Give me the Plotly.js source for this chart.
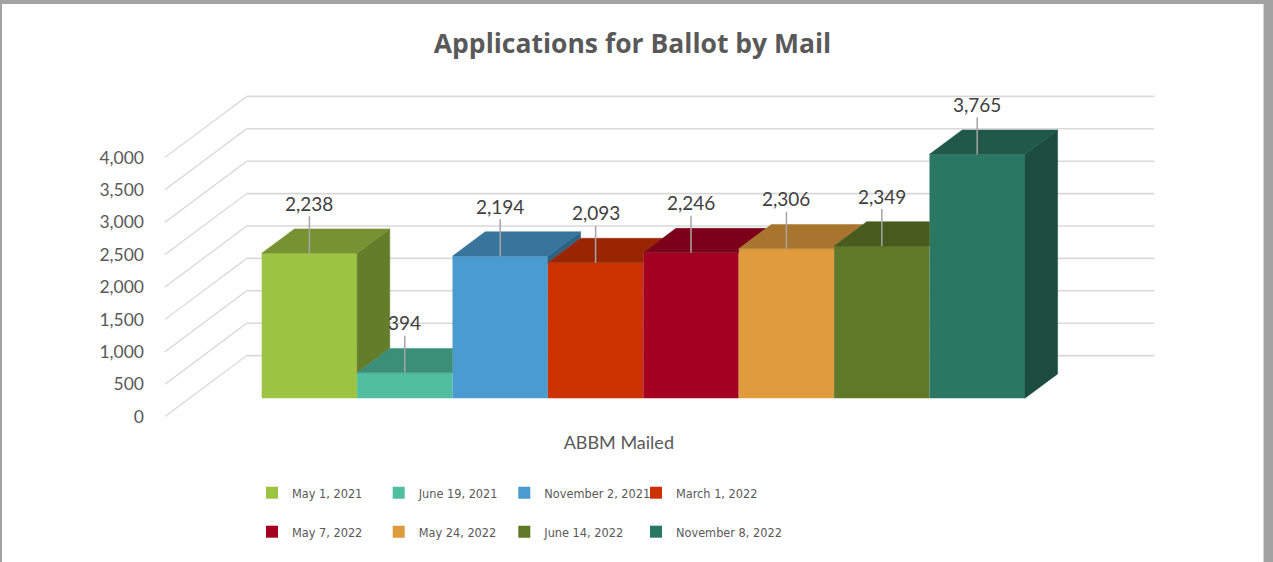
<!DOCTYPE html>
<html><head><meta charset="utf-8">
<script src="https://cdn.plot.ly/plotly-3.0.1.min.js"></script>
<style>
html,body{margin:0;padding:0;width:1273px;height:562px;overflow:hidden;background:#a3a3a3;}
#frame{position:absolute;left:2px;top:4px;width:1261px;height:558px;background:#fff;}
#edge{position:absolute;left:1263px;top:4px;width:1px;height:558px;background:#d4d4d4;}
#chart{width:1261px;height:558px;}
</style></head><body>
<div id="frame"><div id="chart"></div></div><div id="edge"></div>
<script>
// ---- data ----
const chartTitle = 'Applications for Ballot by Mail';
const categoryLabel = 'ABBM Mailed';
const seriesNames = ['May 1, 2021','June 19, 2021','November 2, 2021','March 1, 2022',
                     'May 7, 2022','May 24, 2022','June 14, 2022','November 8, 2022'];
const seriesValues = [2238, 394, 2194, 2093, 2246, 2306, 2349, 3765];
const seriesColors = ['#9dc343','#4fbfa0','#4a9bd0','#cc3300','#a50021','#e09b3d','#607928','#2a7763'];
const yTickVals = [0, 500, 1000, 1500, 2000, 2500, 3000, 3500, 4000];

// ---- geometry (page pixels) ----
const W = 1261, H = 558, OX = 2, OY = 4;
const plotL = 148, plotR = 1160, plotT = 85, plotB = 425;
const bar0Left = 261.7, barBase = 398.3;
const pxPerX = 95.4, pxPerY = 0.0648;
const depthX = 0.8564, depthY = 941;       // floor depth vector in data units
const barFront = 0.3, barBack = 0.7;       // bar occupies this depth band
const sideGap = 0.757;                      // floor gap either side of bars
const n = seriesValues.length;

const xr = [(plotL - bar0Left) / pxPerX, (plotR - bar0Left) / pxPerX];
const yr = [-(plotB - barBase) / pxPerY, (barBase - plotT) / pxPerY];
const cx = p => (p - OX) / W;
const cy = p => 1 - (p - OY) / H;

function shade(hex, f) {
  const r = parseInt(hex.slice(1,3),16), g = parseInt(hex.slice(3,5),16), b = parseInt(hex.slice(5,7),16);
  return 'rgb(' + Math.round(r*f) + ',' + Math.round(g*f) + ',' + Math.round(b*f) + ')';
}

// legend font: prefer a condensed face, size it to the available column width
const ctx = document.createElement('canvas').getContext('2d');
function textW(family, size, s) { ctx.font = size + 'px ' + family; return ctx.measureText(s).width; }
function hasFont(name) {
  const s = 'November 2, 2021 mmwwiil';
  return textW('monospace', 40, s) !== textW('"' + name + '", monospace', 40, s);
}
const legendFamily = ['Liberation Sans Narrow', 'DejaVu Sans Condensed', 'Liberation Sans']
  .find(hasFont) || 'sans-serif';
const fam = '"' + legendFamily + '"';
const longest = seriesNames.reduce((a, b) => textW(fam, 100, b) > textW(fam, 100, a) ? b : a);
const legendSize = Math.min(17, 106 / (textW(fam, 100, longest) / 100));
const legendItemH = Math.max(legendSize * 1.3, 16) + 3;
const legendSymbolX = [276, 402.7, 528.3, 660];   // symbol left edge, px
const legendRowY = [493, 532];

const dx = (barBack - barFront) * depthX, dy = (barBack - barFront) * depthY, slope = dy / dx;
const legendIds = ['legend', 'legend2', 'legend3', 'legend4'];
const traces = [];
const faces = [];
seriesValues.forEach((v, i) => {
  traces.push({
    type: 'bar', x: [i + 0.5], y: [v], base: 0, width: 1, name: seriesNames[i],
    marker: {color: seriesColors[i], line: {width: 0}},
    legend: legendIds[i % 4], legendgroup: 'g' + i, hoverinfo: 'name+y'
  });
  const w = i < n - 1 ? seriesValues[i + 1] : 0;
  const x0 = i, x1 = i + 1;
  let topX, topY;
  if (w > v) {
    const wc = Math.min(w, v + dy);
    topX = [x0, x1, x1, x1 + (v + dy - wc) / slope, x0 + dx, x0];
    topY = [v, v, wc, v + dy, v + dy, v];
  } else {
    topX = [x0, x1, x1 + dx, x0 + dx, x0];
    topY = [v, v, v + dy, v + dy, v];
    const wb = Math.max(w, 0);
    faces.push({type:'scatter', x:[x1, x1, x1 + dx, x1 + dx, x1], y:[wb, v, v + dy, wb + dy, wb],
      mode:'lines', fill:'toself', fillcolor: shade(seriesColors[i], 0.64),
      line:{width:0.5, color: shade(seriesColors[i], 0.64)}, showlegend:false, hoverinfo:'skip'});
  }
  faces.push({type:'scatter', x: topX, y: topY, mode:'lines', fill:'toself',
    fillcolor: shade(seriesColors[i], 0.75), line:{width:0.5, color: shade(seriesColors[i], 0.75)},
    showlegend:false, hoverinfo:'skip'});
});

// walls: back-wall gridlines and side-wall diagonals
const shapes = [];
const L = -sideGap, R = n + sideGap;
yTickVals.forEach(t => {
  shapes.push({type:'line', xref:'x', yref:'y', layer:'below',
    x0: L + (1 - barFront) * depthX, x1: R + (1 - barFront) * depthX,
    y0: t + (1 - barFront) * depthY, y1: t + (1 - barFront) * depthY,
    line:{color:'#d9d9d9', width:1.6}});
  shapes.push({type:'line', xref:'x', yref:'y', layer:'below',
    x0: L - barFront * depthX, y0: t - barFront * depthY,
    x1: L + (1 - barFront) * depthX, y1: t + (1 - barFront) * depthY,
    line:{color:'#d6d6d6', width:1.2}});
});

const annotations = seriesValues.map((v, i) => ({
  x: i + 0.5, y: v, xref:'x', yref:'y', text: v.toLocaleString('en-US'),
  showarrow: true, arrowhead: 0, arrowwidth: 1.5, arrowcolor:'#a6a6a6', ax: 0, ay: -50,
  font:{family:'Lato, sans-serif', size:19, color:'#404040'}
}));

const layout = {
  width: W, height: H,
  margin: {l: plotL - OX, r: OX + W - plotR, t: plotT - OY, b: OY + H - plotB, pad: 0, autoexpand: false},
  paper_bgcolor:'#ffffff', plot_bgcolor:'rgba(0,0,0,0)',
  barmode:'overlay',
  title: {text: chartTitle, xref:'container', yref:'container', x: cx(632.5), xanchor:'center',
    y: cy(44), yanchor:'middle', font:{family:'"Open Sans", sans-serif', size:26.5, color:'#595959', weight:700}},
  xaxis: {range: xr, showgrid:false, zeroline:false, showline:false, ticks:'',
    tickvals:[n / 2 - barFront * depthX], ticktext:[categoryLabel], ticklabelstandoff: 5,
    tickfont:{family:'Lato, sans-serif', size:18, color:'#595959'}, fixedrange:true, automargin:false},
  yaxis: {range: yr, visible:false, fixedrange:true, automargin:false},
  yaxis2: {overlaying:'y', side:'left', anchor:'x',
    range:[yr[0] + barFront * depthY, yr[1] + barFront * depthY],
    tickvals: yTickVals, tickformat:',', ticks:'', showgrid:false, zeroline:false, showline:false,
    ticklabelstandoff: 3, automargin:false,
    tickfont:{family:'Lato, sans-serif', size:17.5, color:'#595959'}, fixedrange:true},
  shapes: shapes,
  annotations: annotations,
  showlegend: true
};
legendIds.forEach((id, j) => {
  layout[id] = {
    orientation:'v', xref:'container', yref:'container', xanchor:'left', yanchor:'middle',
    x: cx(legendSymbolX[j] - 10 - 14), y: cy((legendRowY[0] + legendRowY[1]) / 2),
    tracegroupgap: (legendRowY[1] - legendRowY[0]) - legendItemH,
    bgcolor:'rgba(0,0,0,0)', borderwidth: 0,
    font:{family:fam + ', sans-serif', size: legendSize, color:'#595959'}
  };
});

// invisible trace so yaxis2 renders its ticks
const axisTrace = {type:'scatter', x:[xr[0]], y:[yr[0] + barFront * depthY], yaxis:'y2',
  mode:'markers', marker:{opacity:0}, showlegend:false, hoverinfo:'skip'};

Plotly.newPlot('chart', traces.concat(faces, [axisTrace]), layout, {displayModeBar:false, staticPlot:true});
</script>
</body></html>
